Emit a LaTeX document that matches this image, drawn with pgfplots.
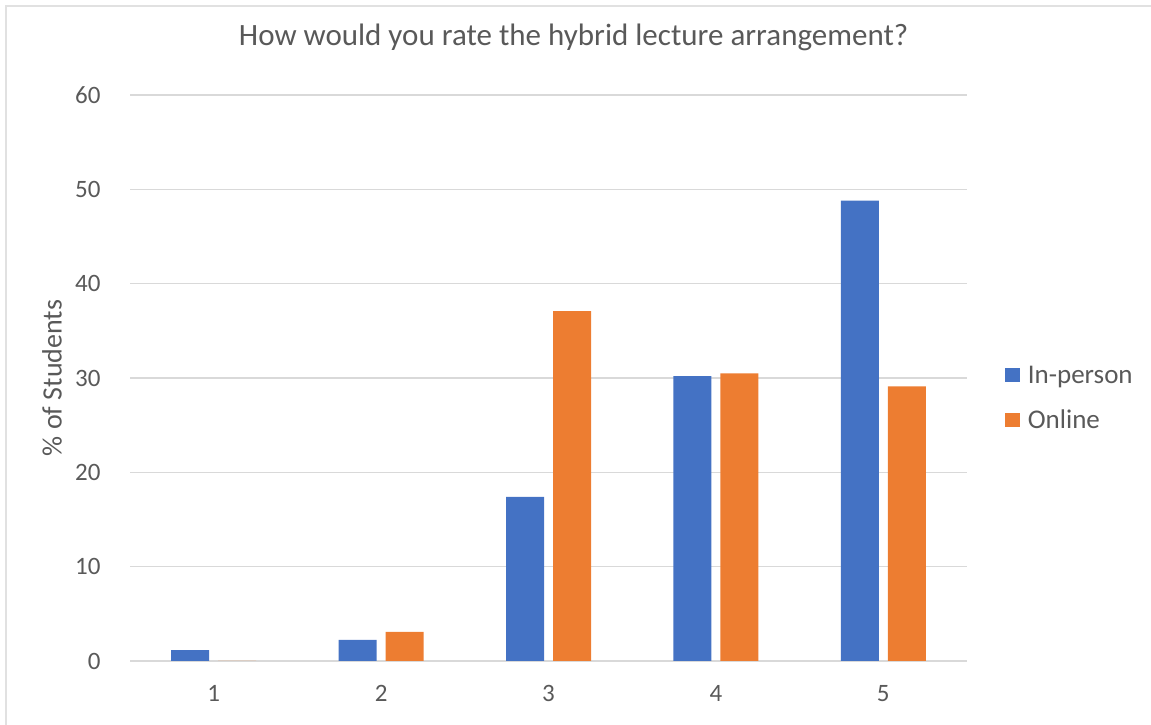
\documentclass[border=0pt]{standalone}
\usepackage{pgfplots}
\pgfplotsset{compat=1.18}
\usepackage{fontspec}
\setmainfont{Carlito}
\definecolor{cblue}{HTML}{4472C4}
\definecolor{corange}{HTML}{ED7D31}
\definecolor{ctext}{HTML}{595959}
\definecolor{cgrid}{HTML}{D9D9D9}
\begin{document}
\begin{tikzpicture}[x=1pt,y=1pt]
\useasboundingbox (0,0) rectangle (1151,725);
\draw[color=cgrid!80, line width=2pt] (6,0) -- (6,719) -- (1151,719);
\begin{scope}[shift={(130pt,64pt)}]
\begin{axis}[
  at={(0pt,0pt)}, anchor=south west,
  scale only axis, width=837pt, height=566pt,
  ybar=9pt, bar width=38pt,
  xmin=0.5, xmax=5.5, ymin=0, ymax=60,
  xtick={1,2,3,4,5}, ytick={0,10,...,60},
  axis line style={draw=none},
  major tick length=0pt,
  ymajorgrids, grid style={cgrid, line width=1.5pt},
  /pgf/number format/assume math mode=true,
  tick label style={font=\fontsize{25}{30}\selectfont, text=ctext},
  xticklabel style={yshift=-21pt},
  yticklabel style={xshift=-26pt},
  ylabel={\% of Students},
  ylabel style={font=\fontsize{28}{33}\selectfont, text=ctext, at={(rel axis cs:0,0.5)}, anchor=center, yshift=78pt},
  title={How would you rate the hybrid lecture arrangement?},
  title style={font=\fontsize{31}{36}\selectfont, text=ctext, at={(0.53,1)}, anchor=base, yshift=43pt},
  legend style={draw=none, fill=none, at={(1.045,0.465)}, anchor=west, inner sep=0pt,
    font=\fontsize{27}{32}\selectfont, text=ctext, row sep=21pt},
  legend cell align=left,
  legend image code/.code={\fill[#1] (0pt,-7pt) rectangle (15pt,7pt); \path (21pt,0pt);},
]
\addplot[fill=cblue, draw=none] coordinates {(1,1.15) (2,2.25) (3,17.4) (4,30.2) (5,48.8)};
\addplot[fill=corange, draw=none] coordinates {(1,0) (2,3.1) (3,37.1) (4,30.5) (5,29.1)};
\legend{In-person, Online}
\end{axis}
\end{scope}
\end{tikzpicture}
\end{document}
